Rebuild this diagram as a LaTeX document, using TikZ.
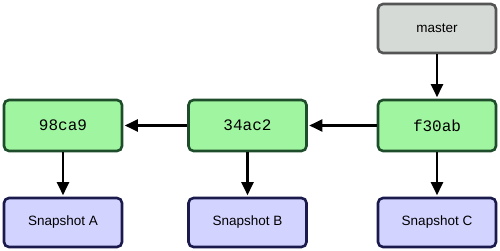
\documentclass[tikz,border=0pt]{standalone}
\usepackage{fontspec}
\setmainfont{Liberation Sans}
\newfontfamily\monofnt{Liberation Mono}
\usetikzlibrary{arrows.meta}
\definecolor{grayfill}{HTML}{D5DAD6}
\definecolor{grayline}{HTML}{555555}
\definecolor{greenfill}{HTML}{A0F5A0}
\definecolor{greenline}{HTML}{1E4D2B}
\definecolor{bluefill}{HTML}{D3D3FF}
\definecolor{blueline}{HTML}{1A1A4D}
\tikzset{
  box/.style={rectangle, rounded corners=5pt, line width=2.6pt, minimum width=118pt, minimum height=49pt, inner sep=0pt},
  branchbox/.style={box, fill=grayfill, draw=grayline, font=\fontsize{13.5}{16}\selectfont},
  commitbox/.style={box, fill=greenfill, draw=greenline, minimum height=51pt, font=\monofnt\fontsize{16}{18}\selectfont},
  snapbox/.style={box, fill=bluefill, draw=blueline, font=\fontsize{13.5}{16}\selectfont},
  link/.style={line width=2.4pt, -{Triangle[length=13pt,width=12pt]}, shorten >=1.5pt}
}
\begin{document}
\begin{tikzpicture}[x=1pt,y=-1pt]
\useasboundingbox (0,0) rectangle (500,251);
\node[branchbox] (master) at (437,28.5) {master};
\node[commitbox] (c1) at (63,125.5) {98ca9};
\node[commitbox] (c2) at (247.5,125.5) {34ac2};
\node[commitbox] (c3) at (437,125.5) {f30ab};
\node[snapbox] (s1) at (63,222.5) {Snapshot A};
\node[snapbox] (s2) at (247.5,222.5) {Snapshot B};
\node[snapbox] (s3) at (437,222.5) {Snapshot C};
\draw[link] (master) -- (c3);
\draw[link] (c3) -- (c2);
\draw[link] (c2) -- (c1);
\draw[link] (c1) -- (s1);
\draw[link] (c2) -- (s2);
\draw[link] (c3) -- (s3);
\end{tikzpicture}
\end{document}
